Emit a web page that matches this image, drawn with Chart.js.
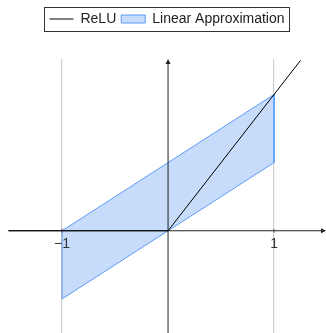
<!DOCTYPE html>
<html>
<head>
<meta charset="utf-8">
<script src="https://cdn.jsdelivr.net/npm/chart.js@4/dist/chart.umd.min.js"></script>
<style>
  html, body { margin: 0; padding: 0; background: #fff; }
  #wrap { width: 326px; height: 333px; }
</style>
</head>
<body>
<div id="wrap"><canvas id="chart"></canvas></div>
<script>
// ReLU: y = max(0, x)
const reluX = [-1.5, 0, 1.25];
const reluY = [0, 0, 1.25];
// Linear approximation region (parallelogram, closed)
const approxX = [-1, 1, 1, -1, -1];
const approxY = [0, 1, 0.5, -0.5, 0];
// Axis ticks
const xTicks = [-1, 1];
const xTickLabels = ['\u22121', '1'];
const xRange = [-1.51, 1.49];
const yRange = [-0.75, 1.26];

const FONT = '"Liberation Sans", Arial, Helvetica, sans-serif';

function toPoints(xs, ys) {
    return xs.map((x, i) => ({ x: x, y: ys[i] }));
}

// Axes with arrows, drawn right after the shaded region so ReLU stays on top
const axesPlugin = {
    id: 'axes',
    afterDatasetDraw(chart, args) {
        if (args.index !== 1) return;
        const ctx = chart.ctx;
        const xs = chart.scales.x;
        const ys = chart.scales.y;
        const area = chart.chartArea;
        const x0 = xs.getPixelForValue(0);
        const y0 = ys.getPixelForValue(0);
        ctx.save();
        ctx.strokeStyle = '#222';
        ctx.fillStyle = '#222';
        ctx.lineWidth = 1;

        // x axis
        ctx.beginPath();
        ctx.moveTo(area.left, y0);
        ctx.lineTo(area.right - 3, y0);
        ctx.stroke();
        ctx.beginPath();
        ctx.moveTo(area.right, y0);
        ctx.lineTo(area.right - 5, y0 - 2.5);
        ctx.lineTo(area.right - 5, y0 + 2.5);
        ctx.closePath();
        ctx.fill();

        // y axis
        ctx.beginPath();
        ctx.moveTo(x0, area.bottom);
        ctx.lineTo(x0, area.top + 3);
        ctx.stroke();
        ctx.beginPath();
        ctx.moveTo(x0, area.top);
        ctx.lineTo(x0 - 2.5, area.top + 5);
        ctx.lineTo(x0 + 2.5, area.top + 5);
        ctx.closePath();
        ctx.fill();

        // tick marks + labels
        ctx.font = '14px ' + FONT;
        ctx.textAlign = 'center';
        ctx.textBaseline = 'alphabetic';
        xTicks.forEach((v, i) => {
            const px = xs.getPixelForValue(v);
            ctx.strokeStyle = '#555';
            ctx.beginPath();
            ctx.moveTo(px, y0 - 2);
            ctx.lineTo(px, y0 + 2);
            ctx.stroke();
            ctx.fillStyle = '#333';
            ctx.fillText(xTickLabels[i], px, y0 + 17);
        });
        ctx.restore();
    }
};

// Frame around the legend
const legendFrame = {
    id: 'legendFrame',
    afterDraw(chart) {
        const boxes = chart.legend && chart.legend.legendHitBoxes;
        if (!boxes || !boxes.length) return;
        const last = boxes[boxes.length - 1];
        const left = boxes[0].left - 5;
        const right = last.left + last.width + 5;
        const top = boxes[0].top - 5;
        const bottom = boxes[0].top + boxes[0].height + 5;
        const ctx = chart.ctx;
        ctx.save();
        ctx.strokeStyle = '#333';
        ctx.lineWidth = 1;
        ctx.strokeRect(Math.round(left) + 0.5, Math.round(top) + 0.5,
            Math.round(right - left), Math.round(bottom - top));
        ctx.restore();
    }
};

const ctx = document.getElementById('chart').getContext('2d');
new Chart(ctx, {
    type: 'scatter',
    data: {
        datasets: [{
            label: 'ReLU',
            data: toPoints(reluX, reluY),
            showLine: true,
            borderColor: '#000',
            borderWidth: 1,
            pointRadius: 0,
            pointStyle: 'line',
            fill: false
        }, {
            label: 'Linear Approximation',
            data: toPoints(approxX, approxY),
            showLine: true,
            borderColor: '#5b9bf8',
            backgroundColor: '#c6dcfa',
            borderWidth: 1,
            pointRadius: 0,
            pointStyle: 'rect',
            pointBorderWidth: 1,
            fill: 'shape'
        }]
    },
    options: {
        responsive: true,
        maintainAspectRatio: false,
        animation: false,
        layout: { padding: { top: 7, left: 8, right: 0, bottom: 0 } },
        plugins: {
            tooltip: { enabled: false },
            legend: {
                position: 'top',
                labels: {
                    usePointStyle: true,
                    pointStyleWidth: 24,
                    boxHeight: 8,
                    padding: 5,
                    color: '#222',
                    font: { size: 14, family: FONT }
                }
            }
        },
        scales: {
            x: {
                type: 'linear',
                min: xRange[0],
                max: xRange[1],
                afterBuildTicks: (scale) => {
                    scale.ticks = xTicks.map(v => ({ value: v }));
                },
                grid: { color: '#cfcfcf', lineWidth: 1.2, drawTicks: false },
                border: { display: false },
                ticks: { display: false }
            },
            xTop: {
                type: 'linear',
                position: 'top',
                display: true,
                grid: { display: false, drawTicks: false },
                border: { display: false },
                ticks: { display: false },
                afterFit: (scale) => { scale.height = 23; }
            },
            y: {
                type: 'linear',
                min: yRange[0],
                max: yRange[1],
                display: false
            }
        }
    },
    plugins: [axesPlugin, legendFrame]
});
</script>
</body>
</html>
